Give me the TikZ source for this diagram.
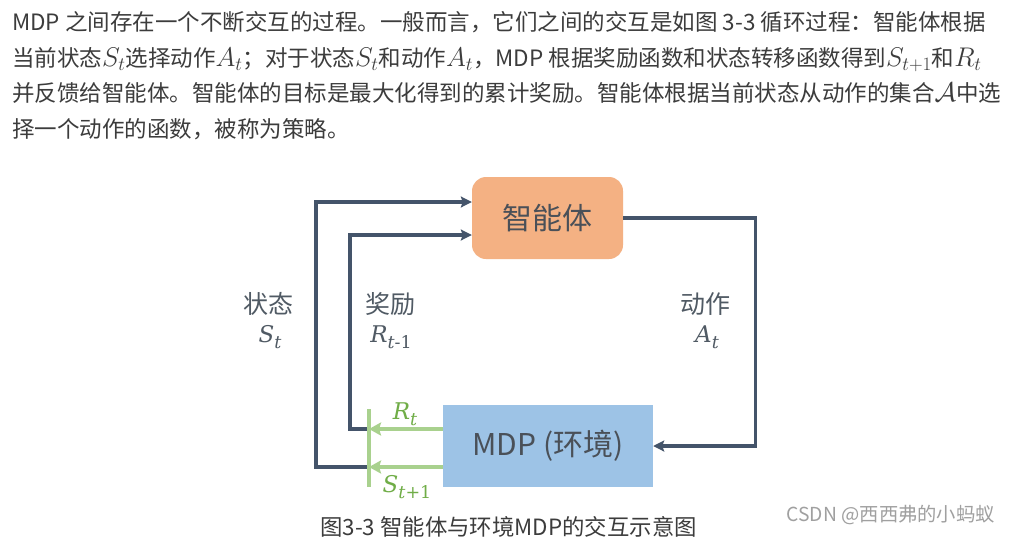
\RequirePackage{fix-cm}
\documentclass[tikz,border=0pt]{standalone}
\usepackage{amsmath}
\usepackage{fontspec}
\newfontfamily\cjk{Noto Sans CJK SC}
\newfontfamily\lbser{DejaVu Serif}
\usetikzlibrary{arrows.meta,calc}
\definecolor{dark}{HTML}{44546A}
\definecolor{agentfill}{HTML}{F4B183}
\definecolor{envfill}{HTML}{9DC3E6}
\definecolor{gline}{HTML}{A9D18E}
\definecolor{gtext}{HTML}{70AD47}
\definecolor{txt}{HTML}{3C3C3C}
\definecolor{lbltxt}{HTML}{505A64}
\definecolor{boxtxt}{HTML}{4A5058}
\definecolor{wmtxt}{HTML}{A0A0A0}
\newcommand\km[1]{{\fontsize{27}{30}\selectfont$#1$}}
% italic letter with subscript, label style
\newcommand\lsub[2]{{\lbser\itshape #1}\raisebox{-6pt}{\lbser\fontsize{17.5}{20}\selectfont #2}}
\begin{document}
\begin{tikzpicture}[x=1pt,y=-1pt,
  para/.style={anchor=base west, inner sep=0pt, text=txt, font=\cjk\fontsize{22.5}{26}\selectfont},
  darr/.style={draw=dark, line width=3.3pt, line join=miter, -{Stealth[length=11pt,width=11pt,inset=2pt]}},
  garr/.style={draw=gline, line width=4.2pt, -{Stealth[length=12pt,width=13pt,inset=2pt]}},
  gbar/.style={draw=gline, line width=4.2pt},
  agentbox/.style={fill=agentfill, rounded corners=14pt, minimum width=151pt, minimum height=82pt, inner sep=0pt, text=boxtxt, font=\cjk\fontsize{30}{36}\selectfont},
  envbox/.style={fill=envfill, minimum width=210pt, minimum height=82pt, inner sep=0pt, text=boxtxt, font=\cjk\fontsize{30}{36}\selectfont},
  lbl/.style={inner sep=0pt, text=lbltxt, font=\cjk\fontsize{25}{30}\selectfont},
  lbm/.style={inner sep=0pt, text=lbltxt, font=\fontsize{23}{28}\selectfont},
  glbl/.style={inner sep=0pt, text=gtext, font=\fontsize{23}{28}\selectfont},
  captext/.style={anchor=base, inner sep=0pt, text=txt, font=\cjk\fontsize{22.4}{26}\selectfont},
  wm/.style={anchor=base east, inner sep=0pt, text=wmtxt, font=\cjk\fontsize{19.3}{22}\selectfont}]
\useasboundingbox (0,0) rectangle (1011,538);
\fill[white] (0,0) rectangle (1011,538);
% paragraph
\node[para] (l1) at (12,30.5) {MDP 之间存在一个不断交互的过程。一般而言，它们之间的交互是如图 3-3 循环过程：智能体根据};
\node[para] (l2) at (12,66) {当前状态\km{S_t}选择动作\km{A_t}；对于状态\km{S_t}和动作\km{A_t}，MDP 根据奖励函数和状态转移函数得到\km{S_{t+1}}和\km{R_t}};
\node[para] (l3) at (12,101.5) {并反馈给智能体。智能体的目标是最大化得到的累计奖励。智能体根据当前状态从动作的集合\km{\mathcal{A}}中选};
\node[para] (l4) at (12,137) {择一个动作的函数，被称为策略。};
% boxes
\node[agentbox] (agent) at (547.5,218) {智能体};
\node[envbox] (env) at (548,446) {MDP (环境)};
% labels
\node[lbl] (ls) at (268,304) {状态};
\node[lbm] (lsm) at (270,337) {\lsub{S}{\itshape t}};
\node[lbl] (lr) at (390,304) {奖励};
\node[lbm] (lrm) at (391,337) {\lsub{R}{{\itshape t}-1}};
\node[lbl] (la) at (705,304) {动作};
\node[lbm] (lam) at (707,337) {\lsub{A}{\itshape t}};
\node[glbl] (lgr) at (405,414) {\lsub{R}{\itshape t}};
\node[glbl] (lgs) at (407,487) {\lsub{S}{{\itshape t}+1}};
% coordinates
\coordinate (gt) at (369,409);
\coordinate (gb) at (369,487);
\coordinate (xi) at (350,0);
\coordinate (xo) at (316,0);
\coordinate (rs) at ([yshift=17pt]env.west);
\coordinate (ss) at ([yshift=-21pt]env.west);
\coordinate (rj) at (rs -| gt);
\coordinate (sj) at (ss -| gt);
% dark connectors
\draw[darr] (agent.east) -- ++(132,0) |- (env.east);
\draw[darr] (rj) -- (rj -| xi) |- ([yshift=-17pt]agent.west);
\draw[darr] (sj) -- (sj -| xo) |- ([yshift=16pt]agent.west);
% green
\draw[gbar] (gt) -- (gb);
\draw[garr] (rs) -- (rj);
\draw[garr] (ss) -- (sj);
% caption and watermark
\node[captext] (capt) at (508.5,535) {图3-3 智能体与环境MDP的交互示意图};
\node[wm] (wmk) at (995,521) {CSDN @西西弗的小蚂蚁};
\end{tikzpicture}
\end{document}
